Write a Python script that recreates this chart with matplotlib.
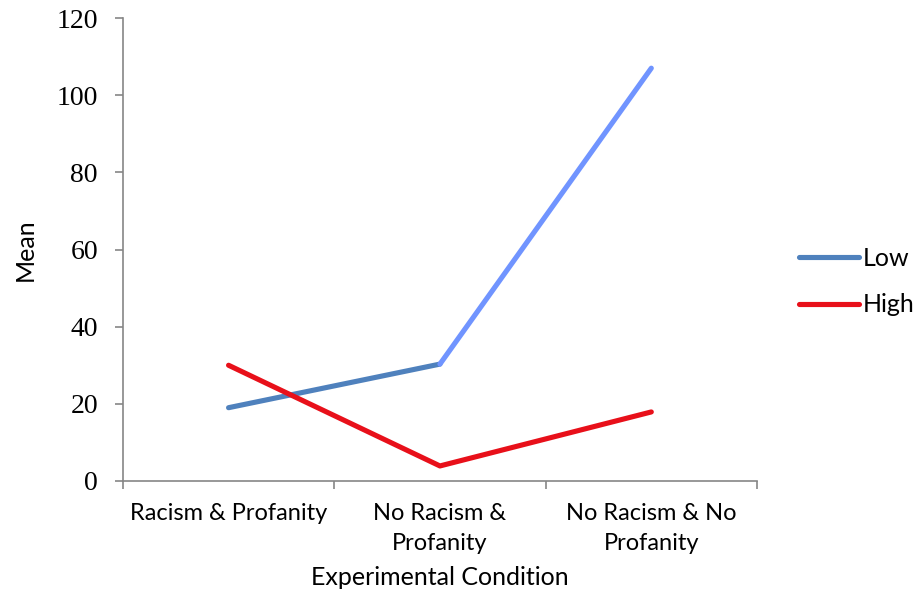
import numpy as np
import matplotlib.pyplot as plt
from matplotlib.lines import Line2D

# conditions et moyennes
categories = ['Racism & Profanity', 'No Racism &\nProfanity', 'No Racism & No\nProfanity']
low = [19.0, 30.3, 107.0]
high = [30.0, 3.9, 17.9]
yticks = [0, 20, 40, 60, 80, 100, 120]

bleu = '#4F81BD'
bleu_clair = '#7094FF'
rouge = '#E8101A'
gris = '#868686'
epaisseur = 3.7

fig = plt.figure(figsize=(9.17, 5.95), dpi=100)
ax = fig.add_axes([0.134, 0.1916, 0.6915, 0.7781])

x = np.arange(len(categories))
# la serie Low change de couleur sur le second segment
ax.plot(x[:2], low[:2], color=bleu, lw=epaisseur, solid_capstyle='round')
ax.plot(x[1:], low[1:], color=bleu_clair, lw=epaisseur, solid_capstyle='round')
ax.plot(x, high, color=rouge, lw=epaisseur, solid_capstyle='round', solid_joinstyle='round')

ax.set_xlim(-0.5, 2.5)
ax.set_ylim(0, 120)
ax.set_yticks(yticks)
ax.set_yticklabels([str(v) for v in yticks], family='Liberation Serif', fontsize=20)

ax.set_xticks([-0.5, 0.5, 1.5, 2.5])
ax.set_xticklabels([])
ax.set_xticks(x, minor=True)
ax.set_xticklabels(categories, minor=True, family='Lato', fontsize=17, linespacing=1.55)
ax.tick_params(axis='x', which='minor', length=0, pad=15.5)
ax.tick_params(axis='x', which='major', length=6, color=gris, width=1.2)
ax.tick_params(axis='y', length=6, color=gris, width=1.2, pad=12)

for s in ['top', 'right']:
    ax.spines[s].set_visible(False)
for s in ['left', 'bottom']:
    ax.spines[s].set_color(gris)
    ax.spines[s].set_linewidth(1.2)

ax.set_ylabel('Mean', family='Lato', fontsize=18, labelpad=14)
ax.set_xlabel('Experimental Condition', family='Lato', fontsize=18, labelpad=9)

handles = [Line2D([], [], color=bleu, lw=epaisseur, solid_capstyle='round'),
           Line2D([], [], color=rouge, lw=epaisseur, solid_capstyle='round')]
fig.legend(handles, ['Low', 'High'], loc='center left', bbox_to_anchor=(0.86, 0.527),
           frameon=False, prop={'family': 'Lato', 'size': 18},
           handlelength=2.4, handletextpad=0.15, labelspacing=0.95, borderaxespad=0)

fig.savefig('out.png', dpi=100)
